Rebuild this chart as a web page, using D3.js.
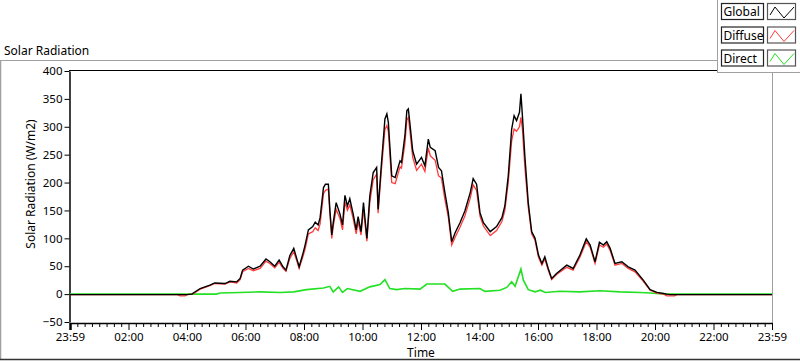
<!DOCTYPE html>
<html><head><meta charset="utf-8">
<script src="https://cdn.jsdelivr.net/npm/d3@7"></script>
<style>
html,body{margin:0;padding:0;background:#fff;}
svg{display:block;font-family:"Noto Sans",sans-serif;}
</style></head>
<body><svg id="c" width="800" height="361"></svg>
<script>
// ---- data (minutes since midnight) ----
const seriesNames = ["Global", "Diffuse", "Direct"];
const seriesColors = ["#000000", "#ff3b3b", "#22e022"];
const gdTimes = [0,220,226,236,240,250,253,267,287,297,318,328,342,349,354,366,376,390,402,410,420,429,437,443,451,459,465,470,477,482,489,498,503,509,513,520,524,530,533,537,540,546,554,559,564,569,574,581,587,591,597,602,609,615,622,629,632,639,646,650,653,660,667,677,680,687,691,694,697,703,711,721,728,735,739,749,756,762,769,776,783,790,800,810,821,827,834,841,848,862,875,886,892,899,906,911,916,922,925,928,933,940,947,954,961,968,974,981,988,998,1019,1032,1046,1059,1067,1077,1086,1094,1101,1108,1118,1132,1145,1159,1176,1190,1204,1218,1224,1231,1240,1245,1440];
const globalVals = [-1,-1,-1,-1,-1,0,2,10,16,20,19,23,22,28,43,50,45,50,63,58,50,61,49,43,69,82,64,49,70,87,115,121,129,124,137,191,197,197,152,106,128,164,143,124,177,158,171,143,115,139,112,164,100,176,218,227,152,236,314,323,308,212,209,239,236,284,329,332,308,257,233,245,230,278,263,257,227,221,182,146,94,110,128,149,182,207,197,146,128,112,121,137,158,212,296,320,311,326,359,320,248,164,112,100,70,55,67,46,28,37,52,46,70,99,88,58,93,88,94,82,55,58,49,43,25,8,3,1,0,-1,-1,-1,-1];
const diffuseVals = [-1,-1,-3,-3,-1,0,1,9,15,19,18,22,20,26,40,46,42,46,59,55,47,57,46,41,64,76,60,46,65,80,108,112,119,114,126,180,186,188,145,100,122,152,135,115,165,150,160,135,108,130,106,152,95,165,205,215,145,225,295,302,292,200,198,228,226,270,312,317,295,245,222,233,220,262,248,240,212,208,170,138,88,102,120,140,172,196,186,140,122,105,114,130,150,200,275,296,292,300,317,296,228,156,108,96,66,52,63,43,26,35,48,43,66,94,84,55,88,84,90,78,52,55,46,40,23,7,2,0,-3,-3,-3,-1,-1];
const directTimes = [0,300,308,349,390,431,459,485,520,533,540,551,559,569,595,615,636,646,656,670,687,718,732,769,785,800,841,851,882,896,906,913,925,930,940,954,965,975,1005,1046,1087,1128,1169,1190,1222,1440];
const directVals = [0,0,2,3,4,3,4,8,11,14,4,13,3,10,5,13,17,26,10,8,10,9,18,18,5,9,10,5,7,12,22,14,45,25,8,4,7,3,5,4,6,4,3,2,0,0];
const yTicks = [-50,0,50,100,150,200,250,300,350,400];
const xTicks = [0,120,240,360,480,600,720,840,960,1080,1200,1320,1440];
const xTickLabels = ["23:59","02:00","04:00","06:00","08:00","10:00","12:00","14:00","16:00","18:00","20:00","22:00","23:59"];
const minorStep = 15;

const svg = d3.select("#c");
const L = 70, R = 772, T = 71, B = 322;
const x = d3.scaleLinear().domain([0,1440]).range([L,R]);
const y = d3.scaleLinear().domain([-50,400]).range([B,T]);

// outer panel frame
svg.append("line").attr("x1",0).attr("x2",718).attr("y1",60.5).attr("y2",60.5).attr("stroke","#a0a0a0");
svg.append("line").attr("x1",0.5).attr("x2",0.5).attr("y1",60).attr("y2",360).attr("stroke","#a0a0a0").attr("stroke-width",1.5);
svg.append("line").attr("x1",0).attr("x2",800).attr("y1",359.5).attr("y2",359.5).attr("stroke","#333").attr("stroke-width",1.5);

svg.append("text").attr("x",4).attr("y",55).attr("font-size",12).attr("fill","#000").text("Solar Radiation");

// plot frame top & right
svg.append("line").attr("x1",L-1).attr("x2",R+1).attr("y1",T-0.5).attr("y2",T-0.5).attr("stroke","#000").attr("stroke-width",1.2);
svg.append("line").attr("x1",R+0.5).attr("x2",R+0.5).attr("y1",T).attr("y2",B+1).attr("stroke","#a0a0a0");

// minor x ticks
const minorVals = d3.range(0,1441,minorStep).filter(v => v % 120 !== 0);
svg.append("g").attr("transform",`translate(0,${B+1})`)
  .call(d3.axisBottom(x).tickValues(minorVals).tickSize(4).tickFormat(""))
  .call(g => g.select(".domain").remove())
  .call(g => g.selectAll("line").attr("stroke","#000"));
// major x axis
const xa = svg.append("g").attr("transform",`translate(0,${B+1})`)
  .call(d3.axisBottom(x).tickValues(xTicks).tickSize(7).tickSizeOuter(0).tickPadding(3)
    .tickFormat((d,i) => xTickLabels[i]));
xa.select(".domain").attr("stroke","#000").attr("stroke-width",1.5);
xa.selectAll("line").attr("stroke","#000");
xa.selectAll("text").attr("font-size",11.5).attr("fill","#000").attr("font-family","Noto Sans");
xa.selectAll(".tick").filter(d => d===0).select("line").attr("stroke-width",2.5);

// y axis
const ya = svg.append("g").attr("transform",`translate(${L-0.5},0)`)
  .call(d3.axisLeft(y).tickValues(yTicks).tickSize(5).tickSizeOuter(0).tickPadding(2));
ya.select(".domain").attr("stroke","#000").attr("stroke-width",1.5);
ya.selectAll("line").attr("stroke","#000");
ya.selectAll("text").attr("font-size",11.5).attr("fill","#000").attr("font-family","Noto Sans");

// axis titles
svg.append("text").attr("transform","translate(35,184) rotate(-90)").attr("text-anchor","middle")
  .attr("font-size",12).attr("fill","#000").text("Solar Radiation (W/m2)");
svg.append("text").attr("x",421).attr("y",357).attr("text-anchor","middle")
  .attr("font-size",12).attr("fill","#000").text("Time");

// series
const line = d3.line().x(d => x(d[0])).y(d => y(d[1]));
const plot = svg.append("g");
plot.append("path").datum(directTimes.map((t,i)=>[t,directVals[i]]))
  .attr("d",line).attr("fill","none").attr("stroke",seriesColors[2]).attr("stroke-width",1.6);
plot.append("path").datum(gdTimes.map((t,i)=>[t,diffuseVals[i]]))
  .attr("d",line).attr("fill","none").attr("stroke",seriesColors[1]).attr("stroke-width",1.3);
plot.append("path").datum(gdTimes.map((t,i)=>[t,globalVals[i]]))
  .attr("d",line).attr("fill","none").attr("stroke",seriesColors[0]).attr("stroke-width",1.4);

// legend
const lg = svg.append("g");
lg.append("rect").attr("x",717.5).attr("y",-1).attr("width",90).attr("height",73.5)
  .attr("fill","#fff").attr("stroke","#a0a0a0");
const rowY = [3,26.5,49.5];
seriesNames.forEach((n,i) => {
  const ry = rowY[i];
  lg.append("rect").attr("x",721.5).attr("y",ry+0.5).attr("width",42).attr("height",16)
    .attr("fill","#fff").attr("stroke","#222").attr("stroke-width",1.2);
  lg.append("text").attr("x",723.5).attr("y",ry+13).attr("font-size",12).attr("fill","#000").text(n);
  lg.append("rect").attr("x",767.5).attr("y",ry+0.5).attr("width",28).attr("height",16)
    .attr("fill","#fff").attr("stroke","#555").attr("stroke-width",1.2);
  lg.append("path").attr("d",`M770,${ry+12} L775,${ry+4} L784,${ry+15} L794,${ry+4}`)
    .attr("fill","none").attr("stroke",seriesColors[i]).attr("stroke-width",1);
});
</script></body></html>
